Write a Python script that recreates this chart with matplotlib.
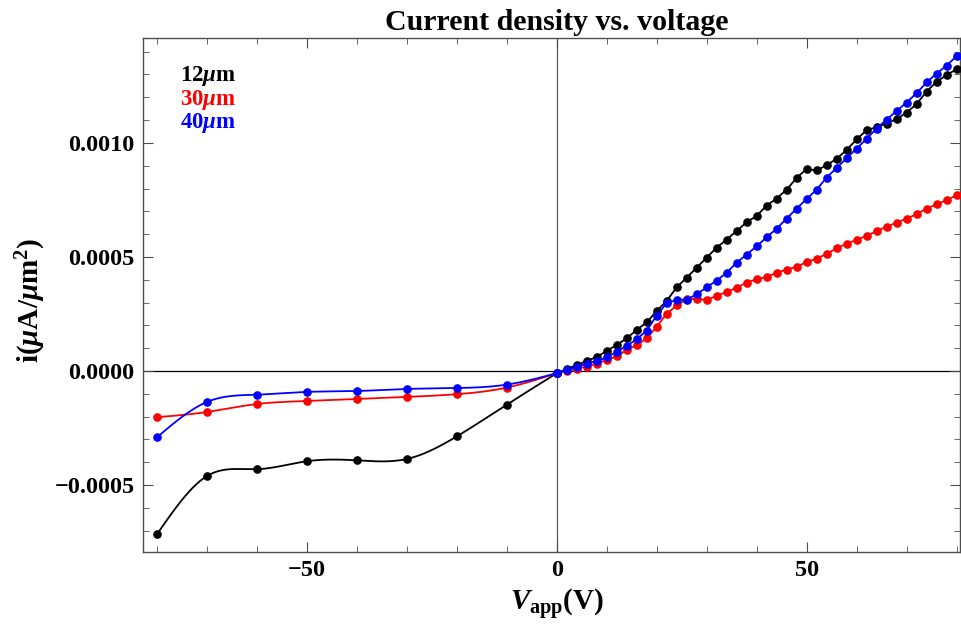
import numpy as np
import matplotlib
matplotlib.use("Agg")
from matplotlib import pyplot as plt
from matplotlib.ticker import MultipleLocator, FuncFormatter

plt.rcParams['font.family'] = ['Liberation Serif', 'DejaVu Serif']
plt.rcParams['font.weight'] = 'bold'
plt.rcParams['mathtext.fontset'] = 'custom'
plt.rcParams['mathtext.rm'] = 'Liberation Serif:bold'
plt.rcParams['mathtext.it'] = 'Liberation Serif:bold:italic'
plt.rcParams['mathtext.bf'] = 'Liberation Serif:bold'

# reverse bias: one point every 10 V
v_neg = [-80, -70, -60, -50, -40, -30, -20, -10, 0]
black_neg = [-0.000716, -0.000461, -0.000431, -0.000396, -0.000392, -0.000386, -0.000287, -0.000148, -0.000010]
red_neg = [-0.000203, -0.000180, -0.000145, -0.000132, -0.000123, -0.000114, -0.000102, -0.000073, -0.000010]
blue_neg = [-0.000291, -0.000136, -0.000104, -0.000092, -0.000088, -0.000079, -0.000075, -0.000060, -0.000010]

# forward bias: one point every 2 V
v_pos = list(range(0, 82, 2))
black_pos = [-0.000010, 0.000009, 0.000026, 0.000044, 0.000061, 0.000088, 0.000114, 0.000143, 0.000180, 0.000213,
             0.000263, 0.000307, 0.000367, 0.000409, 0.000453, 0.000497, 0.000541, 0.000576, 0.000614, 0.000652,
             0.000680, 0.000725, 0.000756, 0.000795, 0.000846, 0.000886, 0.000879, 0.000902, 0.000930, 0.000969,
             0.001015, 0.001056, 0.001069, 0.001085, 0.001104, 0.001133, 0.001170, 0.001225, 0.001268, 0.001297,
             0.001323]
red_pos = [-0.000010, 0.000000, 0.000010, 0.000019, 0.000032, 0.000048, 0.000064, 0.000092, 0.000113, 0.000143,
           0.000194, 0.000251, 0.000287, 0.000314, 0.000317, 0.000310, 0.000330, 0.000346, 0.000365, 0.000387,
           0.000402, 0.000412, 0.000431, 0.000444, 0.000457, 0.000477, 0.000493, 0.000513, 0.000538, 0.000558,
           0.000575, 0.000592, 0.000613, 0.000633, 0.000650, 0.000668, 0.000687, 0.000712, 0.000730, 0.000749,
           0.000770]
blue_pos = [-0.000010, 0.000004, 0.000019, 0.000032, 0.000044, 0.000059, 0.000085, 0.000110, 0.000139, 0.000177,
            0.000243, 0.000298, 0.000311, 0.000313, 0.000336, 0.000367, 0.000396, 0.000431, 0.000475, 0.000510,
            0.000547, 0.000586, 0.000624, 0.000668, 0.000712, 0.000754, 0.000795, 0.000848, 0.000890, 0.000933,
            0.000975, 0.001018, 0.001063, 0.001102, 0.001140, 0.001177, 0.001218, 0.001265, 0.001304, 0.001339,
            0.001380]

labels = ["12$\\mu$m", "30$\\mu$m", "40$\\mu$m"]
colors = ["black", "red", "blue"]


def spline(x, y, n=300):
    # natural cubic spline through the points
    x = np.asarray(x, float)
    y = np.asarray(y, float)
    k = len(x)
    h = np.diff(x)
    A = np.zeros((k, k))
    r = np.zeros(k)
    A[0, 0] = A[-1, -1] = 1
    for i in range(1, k - 1):
        A[i, i - 1] = h[i - 1]
        A[i, i] = 2 * (h[i - 1] + h[i])
        A[i, i + 1] = h[i]
        r[i] = 6 * ((y[i + 1] - y[i]) / h[i] - (y[i] - y[i - 1]) / h[i - 1])
    m = np.linalg.solve(A, r)
    xs = np.linspace(x[0], x[-1], n)
    j = np.clip(np.searchsorted(x, xs) - 1, 0, k - 2)
    t0 = x[j + 1] - xs
    t1 = xs - x[j]
    ys = (m[j] * t0 ** 3 + m[j + 1] * t1 ** 3) / (6 * h[j]) \
        + (y[j] / h[j] - m[j] * h[j] / 6) * t0 + (y[j + 1] / h[j] - m[j + 1] * h[j] / 6) * t1
    return xs, ys


fig = plt.figure(figsize=(9.61, 6.24), dpi=100)
ax = fig.add_axes([143 / 961, 72 / 624, 817 / 961, 514 / 624])

ax.axhline(0, color="black", lw=0.9, zorder=1)
ax.axvline(0, color="0.35", lw=0.9, zorder=1)

for neg, pos, c in zip([black_neg, red_neg, blue_neg], [black_pos, red_pos, blue_pos], colors):
    xs, ys = spline(v_neg, neg)
    ax.plot(xs, ys, color=c, lw=1.3, zorder=2)
    ax.plot(v_neg, neg, "o", color=c, ms=5.2, zorder=3)
    ax.plot(v_pos, pos, "-o", color=c, lw=1.3, ms=5.2, zorder=3)

ax.set_xlim(-82.8, 80.7)
ax.set_ylim(-0.000794, 0.00146)

ax.xaxis.set_major_locator(MultipleLocator(50))
ax.xaxis.set_minor_locator(MultipleLocator(10))
ax.yaxis.set_major_locator(MultipleLocator(0.0005))
ax.yaxis.set_minor_locator(MultipleLocator(0.0001))
ax.yaxis.set_major_formatter(FuncFormatter(lambda v, p: ("%.4f" % v).replace("-", "\u2212")))
ax.xaxis.set_major_formatter(FuncFormatter(lambda v, p: ("%d" % round(v)).replace("-", "\u2212")))
ax.tick_params(which="both", direction="in", top=True, right=True, labelsize=17.5, color="0.3", pad=6)
ax.tick_params(which="major", length=7, width=0.8)
ax.tick_params(which="minor", length=4, width=0.6)
for lab in ax.get_xticklabels() + ax.get_yticklabels():
    lab.set_fontweight("bold")
for s in ax.spines.values():
    s.set_color("0.3")
    s.set_linewidth(1.0)

for i, (lab, c) in enumerate(zip(labels, colors)):
    ax.text(0.045, 0.926 - 0.046 * i, lab, color=c, fontsize=16.5, fontweight="bold",
            transform=ax.transAxes, va="center", ha="left")

fig.text(557 / 961, 1 - 22 / 624, "Current density vs. voltage", fontsize=21.5, fontweight="bold",
         ha="center", va="center")
fig.text(557 / 961, 1 - 605 / 624, "$V_{\\mathrm{app}}$(V)", fontsize=21, fontweight="bold",
         ha="center", va="center")
fig.text(31 / 961, 1 - 300 / 624, "i($\\mu$A/$\\mu$m$^2$)", fontsize=21, fontweight="bold",
         ha="center", va="center", rotation=90)

fig.savefig("out.png", dpi=100)
